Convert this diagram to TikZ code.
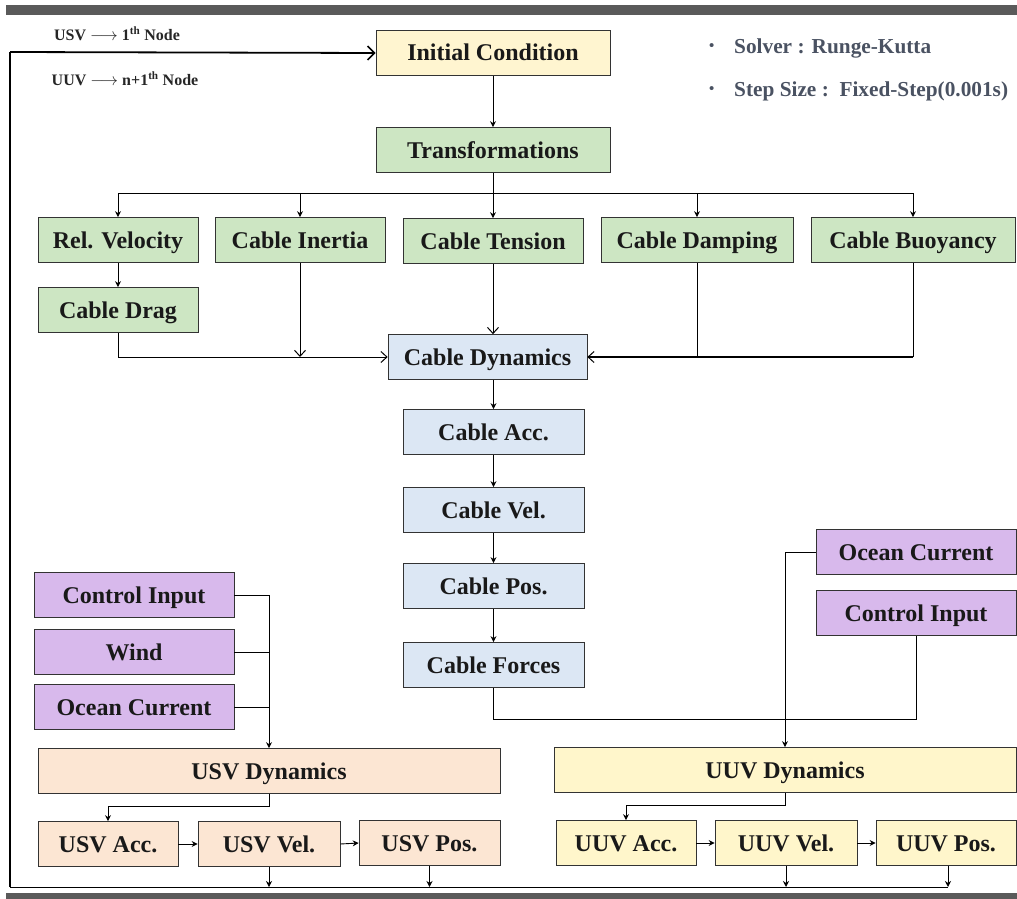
\documentclass[tikz,border=0pt]{standalone}
\usepackage{fontspec}
\setmainfont{Liberation Serif}
\usetikzlibrary{arrows.meta,positioning}
\definecolor{icY}{HTML}{FFF5D0}
\definecolor{grn}{HTML}{CDE6C3}
\definecolor{blu}{HTML}{DCE7F4}
\definecolor{pur}{HTML}{D8B9EC}
\definecolor{pch}{HTML}{FCE6D3}
\definecolor{uuvY}{HTML}{FFF6CB}
\definecolor{barG}{HTML}{5A5A5A}
\definecolor{noteG}{HTML}{4A5262}
\tikzset{
  box/.style={draw=black!80, line width=0.7pt, minimum height=45pt, inner sep=0pt,
    text height=20pt, text depth=4pt,
    font=\fontsize{24}{27}\selectfont\bfseries, text=black!90},
  conn/.style={line width=0.9pt, draw=black},
  fa/.style={conn, -{Stealth[length=6pt,width=6pt]}},
  oa/.style={conn, -{Straight Barb[length=6pt,width=11pt,line width=1pt]}},
  lbl/.style={font=\fontsize{16}{18}\selectfont\bfseries, text=black!85, inner sep=0pt},
  note/.style={font=\fontsize{21.3}{24}\selectfont\bfseries, text=noteG, inner sep=0pt, anchor=west}
}
\begin{document}
\begin{tikzpicture}[x=1pt,y=-1pt]
\useasboundingbox (0,0) rectangle (1017,899);
% bars
\fill[barG] (6,5) rectangle (1017,15);
\fill[barG] (6,893) rectangle (1017,899);
% nodes
\node[box, fill=icY, minimum width=234pt] (ic) at (493,53) {Initial Condition};
\node[box, fill=grn, minimum width=234pt] (tr) at (493,150) {Transformations};
\node[box, fill=grn, minimum width=160pt] (rv) at (118,240) {Rel. Velocity};
\node[box, fill=grn, minimum width=170pt] (ci) at (300,240) {Cable Inertia};
\node[box, fill=grn, minimum width=180pt] (ct) at (493,241) {Cable Tension};
\node[box, fill=grn, minimum width=192pt] (cdm) at (697,240) {Cable Damping};
\node[box, fill=grn, minimum width=204pt] (cb) at (913,240) {Cable Buoyancy};
\node[box, fill=grn, minimum width=160pt] (cdr) at (118,310) {Cable Drag};
\node[box, fill=blu, minimum width=199pt] (cdy) at (487.5,357) {Cable Dynamics};
\node[box, fill=blu, minimum width=181pt] (ca) at (493.5,432) {Cable Acc.};
\node[box, fill=blu, minimum width=181pt] (cv) at (493.5,510) {Cable Vel.};
\node[box, fill=blu, minimum width=181pt] (cp) at (493.5,586) {Cable Pos.};
\node[box, fill=blu, minimum width=181pt] (cf) at (493.5,665) {Cable Forces};
\node[box, fill=pur, minimum width=200pt] (ocR) at (916,552) {Ocean Current};
\node[box, fill=pur, minimum width=200pt] (ciR) at (916,613) {Control Input};
\node[box, fill=pur, minimum width=200pt] (ciL) at (134,595) {Control Input};
\node[box, fill=pur, minimum width=200pt] (wind) at (134,652) {Wind};
\node[box, fill=pur, minimum width=200pt] (ocL) at (134,707) {Ocean Current};
\node[box, fill=pch, minimum width=462pt] (usvd) at (269,771) {USV Dynamics};
\node[box, fill=pch, minimum width=140pt] (usva) at (108,844) {USV Acc.};
\node[box, fill=pch, minimum width=142pt] (usvv) at (269,844) {USV Vel.};
\node[box, fill=pch, minimum width=141pt] (usvp) at (429.5,843) {USV Pos.};
\node[box, fill=uuvY, minimum width=462pt] (uuvd) at (785,770) {UUV Dynamics};
\node[box, fill=uuvY, minimum width=140pt] (uuva) at (626,843) {UUV Acc.};
\node[box, fill=uuvY, minimum width=142pt] (uuvv) at (786,843) {UUV Vel.};
\node[box, fill=uuvY, minimum width=140pt] (uuvp) at (946,843) {UUV Pos.};
% labels
\node[lbl] (l1) at (117,34) {USV $\longrightarrow$ 1\textsuperscript{th} Node};
\node[lbl] (l2) at (125,79) {UUV $\longrightarrow$ n+1\textsuperscript{th} Node};
\node[note] (b1) at (709,47) {\scalebox{0.7}{\textbullet}};
\node[note] (n1) at (734,48) {Solver : Runge-Kutta};
\node[note] (b2) at (709,90) {\scalebox{0.7}{\textbullet}};
\node[note] (n2) at (734,91) {Step Size :\ \ Fixed-Step(0.001s)};
% feedback loop
\coordinate (fbT) at (10,52);
\coordinate (fbB) at (10,887);
\coordinate (fbR) at (948,887);
\draw[conn, line width=1.2pt] (fbB) -- (fbT);
\draw[conn, line width=1.8pt, -{Straight Barb[length=7pt,width=14pt,line width=1.6pt]}] (fbT) -- (ic.west);
\draw[conn] (fbB) -- (fbR);
% top chain
\draw[fa] (ic.south) -- (tr.north);
\coordinate (bus) at (493,193);
\draw[conn] (tr.south) -- (bus);
\draw[fa] (bus) -| (rv.north);
\draw[fa] (bus) -| (ci.north);
\draw[fa] (bus) -- (ct.north);
\draw[fa] (bus) -| (cdm.north);
\draw[fa] (bus) -| (cb.north);
\draw[fa] (rv.south) -- (cdr.north);
\draw[oa] (cdr.south) |- (cdy.west);
\draw[oa] (ci.south) -- (ci.south |- cdy.west);
\draw[oa] (ct.south) -- (ct.south |- cdy.north);
\draw[conn] (cdm.south) -- (cdm.south |- cdy.east);
\draw[conn] (cb.south) -- (cb.south |- cdy.east);
\draw[oa, line width=1.8pt] (cb.south |- cdy.east) -- (cdy.east);
\draw[fa] (ca.north |- cdy.south) -- (ca.north);
\draw[fa] (ca.south) -- (cv.north);
\draw[fa] (cv.south) -- (cp.north);
\draw[fa] (cp.south) -- (cf.north);
% UUV inputs
\coordinate (jn) at (786,719);
\draw[conn] (cf.south) |- (jn);
\draw[conn] (ciR.south) |- (jn);
\draw[fa] (ocR.west) -| (uuvd.north);
% USV inputs
\draw[fa] (ciL.east) -| (usvd.north);
\draw[conn] (wind.east) -- (wind.east -| usvd.north);
\draw[conn] (ocL.east) -- (ocL.east -| usvd.north);
% USV chain
\draw[fa] (usvd.south) -- ++(0,13) -| (usva.north);
\draw[fa] (usva.east) -- (usvv.west);
\draw[fa] (usvv.east) -- (usvp.west);
\draw[fa] (usvv.south) -- (usvv.south |- fbB);
\draw[fa] (usvp.south) -- (usvp.south |- fbB);
% UUV chain
\draw[fa] (uuvd.south) -- ++(0,13) -| (uuva.north);
\draw[fa] (uuva.east) -- (uuvv.west);
\draw[fa] (uuvv.east) -- (uuvp.west);
\draw[fa] (uuvv.south) -- (uuvv.south |- fbB);
\draw[fa] (fbR |- uuvp.south) -- (fbR);
\end{tikzpicture}
\end{document}
